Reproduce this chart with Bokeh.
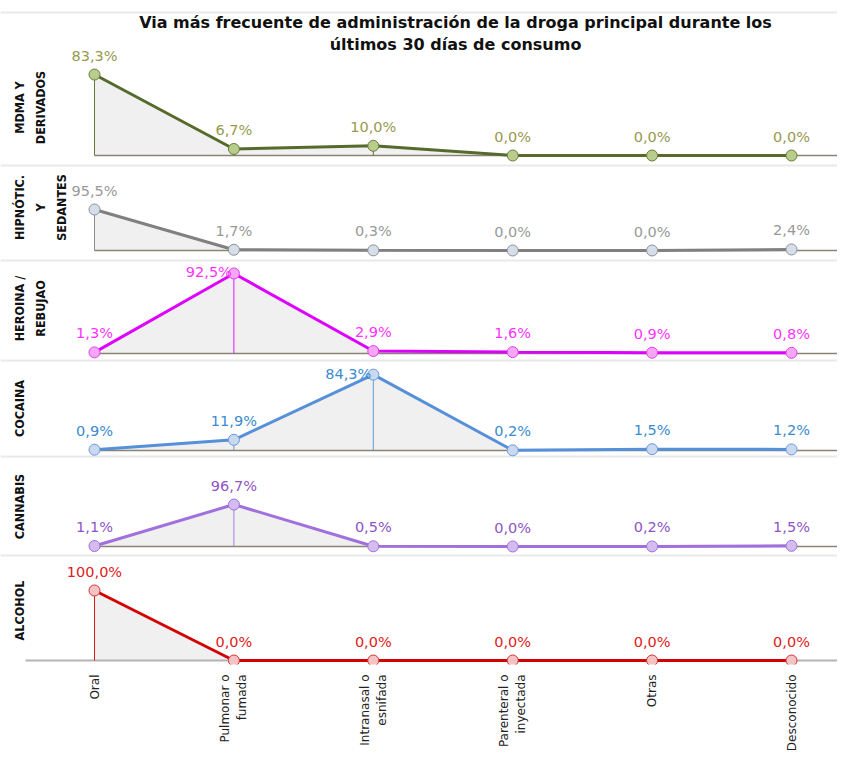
import math
from bokeh.plotting import figure
from bokeh.models import Range1d, FixedTicker, ColumnDataSource
from bokeh.core.properties import value
from bokeh.embed import file_html
from bokeh.resources import INLINE

# ---------------- data ----------------
title_lines = ["Via más frecuente de administración de la droga principal durante los",
               "últimos 30 días de consumo"]

categories = ["Oral", "Pulmonar o\nfumada", "Intranasal o\nesnifada",
              "Parenteral o\ninyectada", "Otras", "Desconocido"]

drug_labels = ["MDMA Y\nDERIVADOS", "HIPNÓTIC.\nY\nSEDANTES", "HEROINA /\nREBUJAO",
               "COCAINA", "CANNABIS", "ALCOHOL"]

mdma = [83.3, 6.7, 10.0, 0.0, 0.0, 0.0]
hipnoticos = [95.5, 1.7, 0.3, 0.0, 0.0, 2.4]
heroina = [1.3, 92.5, 2.9, 1.6, 0.9, 0.8]
cocaina = [0.9, 11.9, 84.3, 0.2, 1.5, 1.2]
cannabis = [1.1, 96.7, 0.5, 0.0, 0.2, 1.5]
alcohol = [100.0, 0.0, 0.0, 0.0, 0.0, 0.0]

series = [mdma, hipnoticos, heroina, cocaina, cannabis, alcohol]

# ---------------- styles ----------------
line_colors = ["#566a2c", "#808080", "#dd00ff", "#5590d8", "#a070dd", "#d40000"]
marker_fill = ["#b8cc8c", "#d5deea", "#f6a6f6", "#c9d9ef", "#d4bcef", "#f4c4c4"]
marker_edge = ["#6b7b3a", "#909090", "#e040f0", "#6a9ad8", "#a070dd", "#d03030"]
label_colors = ["#99994f", "#999999", "#ff33ff", "#3b8bd0", "#8e55c8", "#e02020"]
FONT = "DejaVu Sans"
NARROW = "Liberation Sans Narrow, DejaVu Sans Condensed, DejaVu Sans"

# ---------------- layout (pixels from the figure's top-left) ----------------
W = 837
FRAME_BOT = 664          # frame spans 0..FRAME_BOT vertically
TITLE_Y = [22, 44]
TITLE_X_PX = 455
panel_top = [12, 165, 260, 360, 456, 555]
drug_label_center_px = [107, 207, 308, 408, 506, 610]
baseline_px = [155, 250, 353, 450, 546, 660]
px_per_pct = [0.972, 0.429, 0.865, 0.90, 0.434, 0.70]
X0_PX, X_STEP = 94, 139.4

def px_to_x(px):
    return (px - X0_PX) / X_STEP

xs = list(range(len(categories)))
x_start = px_to_x(0)
x_end = px_to_x(W)

p = figure(frame_width=W, frame_height=FRAME_BOT,
           x_range=Range1d(x_start, x_end),
           y_range=Range1d(FRAME_BOT, 0),
           title=None, output_backend="svg", toolbar_location=None,
           y_axis_location=None,
           min_border_left=0, min_border_right=0, min_border_top=0,
           min_border_bottom=81)
p.outline_line_color = None
p.grid.visible = False
p.background_fill_color = "white"
p.border_fill_color = "white"

# title (two centred lines)
p.text(x=[px_to_x(TITLE_X_PX)] * 2, y=TITLE_Y, text=title_lines,
       text_align="center", text_baseline="middle",
       text_font=value(FONT), text_font_style="bold", text_font_size="16px",
       text_color="#111111")

# x axis
ax = p.xaxis[0]
ax.ticker = FixedTicker(ticks=xs)
ax.major_label_overrides = {i: c for i, c in enumerate(categories)}
ax.major_label_orientation = math.pi / 2
ax.major_label_text_font = FONT
ax.major_label_text_font_size = "12px"
ax.major_label_text_color = "#222222"
ax.major_label_standoff = 4
ax.major_tick_line_color = None
ax.minor_tick_line_color = None
ax.axis_line_color = None

# separators between panels
p.hspan(y=panel_top, line_color="#e9e9e9", line_width=2)

# drug labels on the left
p.text(x=[px_to_x(11)] * len(drug_labels), y=drug_label_center_px, text=drug_labels,
       angle=math.pi / 2, text_align="center", text_baseline="top",
       text_font=value(NARROW), text_font_style="bold", text_font_size="12.5px",
       text_line_height=1.4, text_color="#111111")

last = len(series) - 1
for k, vals in enumerate(series):
    name = f"panel{k}"
    s = px_per_pct[k]
    b = baseline_px[k]
    p.extra_y_ranges[name] = Range1d(start=(b - FRAME_BOT) / s, end=b / s)

    labels = [f"{v:.1f}%".replace(".", ",") for v in vals]
    aligns, xoffs, yoffs = [], [], []
    for v in vals:
        marker_px = b - v * s
        if marker_px - panel_top[k] < 25:
            aligns.append("right"); xoffs.append(-2); yoffs.append(-1)
        else:
            aligns.append("center"); xoffs.append(0); yoffs.append(-19)
    src = ColumnDataSource(dict(x=xs, y=vals, zero=[0.0] * len(vals), label=labels,
                                align=aligns, xo=xoffs, yo=yoffs))

    p.varea(x="x", y1="zero", y2="y", source=src, fill_color="#f0f0f0",
            y_range_name=name)
    if k < last:
        p.segment(x0=xs[0], y0=0, x1=x_end, y1=0, line_color="#8a8474",
                  line_width=1.5, y_range_name=name)
    else:
        # bottom axis line
        p.segment(x0=px_to_x(25), y0=0, x1=x_end, y1=0, line_color="#b4b4b4",
                  line_width=2, y_range_name=name)
    p.segment(x0="x", y0="zero", x1="x", y1="y", source=src,
              line_color=line_colors[k], line_width=1, line_alpha=0.9,
              y_range_name=name)
    p.line(x="x", y="y", source=src, line_color=line_colors[k], line_width=3,
           y_range_name=name)
    p.scatter(x="x", y="y", source=src, size=11, fill_color=marker_fill[k],
              line_color=marker_edge[k], line_width=1, y_range_name=name)
    p.text(x="x", y="y", text="label", source=src, text_align="align",
           text_baseline="middle", x_offset="xo", y_offset="yo",
           text_font=value(FONT), text_font_size="14.5px",
           text_color=label_colors[k], y_range_name=name)

open("out.html", "w").write(file_html(p, INLINE))
